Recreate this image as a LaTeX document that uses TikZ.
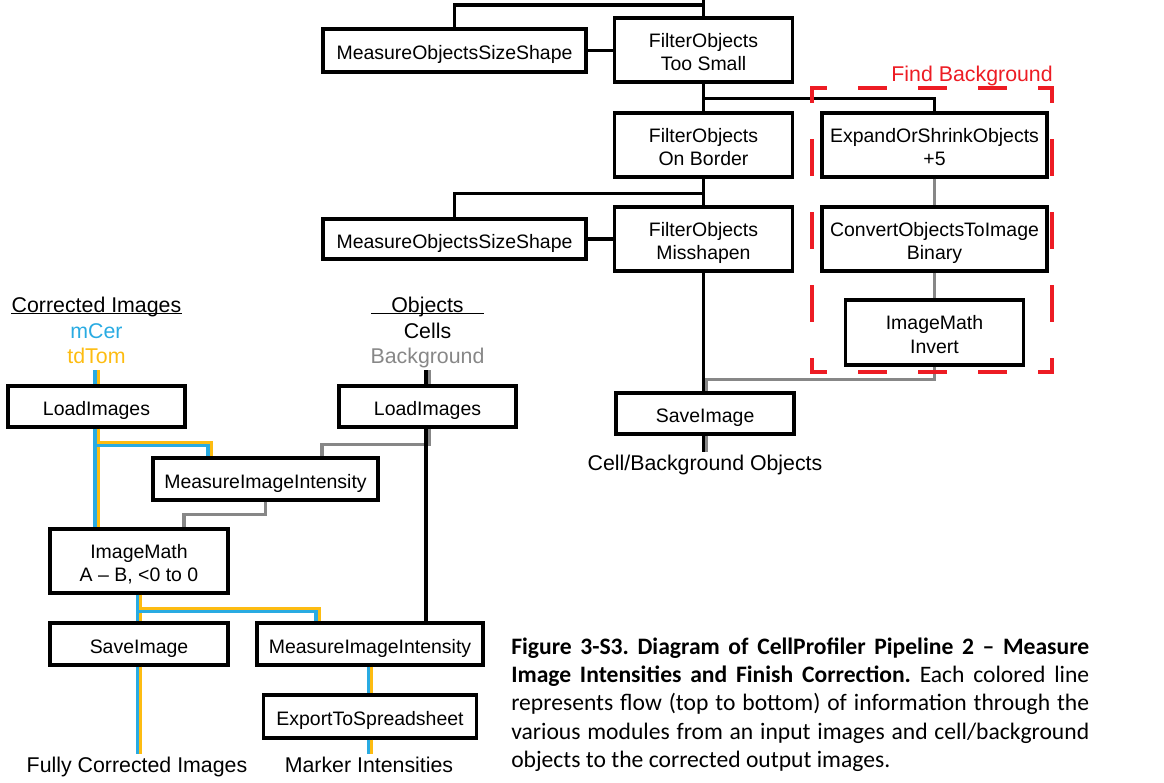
\documentclass[tikz,border=0pt]{standalone}
\usepackage{fontspec}
\setmainfont{Liberation Sans}
\newfontfamily\capfont{Carlito}
\usetikzlibrary{calc}

\definecolor{cerblue}{RGB}{41,171,226}
\definecolor{tomorange}{RGB}{253,188,17}
\definecolor{bggray}{RGB}{135,135,135}
\definecolor{findred}{RGB}{237,28,36}

\newcommand{\linetop}{\rule{0pt}{16.8pt}}

\tikzset{
  module/.style 2 args={draw, line width=2.5pt, inner sep=0pt, align=center,
    minimum width=#1*0.75pt, minimum height=#2*0.75pt,
    font=\fontsize{14.6}{17.6}\selectfont,
    execute at begin node={\linetop},
    execute at end node={\rule[-3.1pt]{0pt}{0pt}}},
  lbl/.style={inner sep=0pt, anchor=base, font=\fontsize{16}{19}\selectfont},
  objline/.style={line width=2.4pt},
  bgline/.style={line width=2.4pt, bggray},
  chan/.style={line width=2.4pt, #1},
  uline/.style={line width=1.1pt},
  findh/.style={findred, line width=2.3pt, line cap=rect,
    dash pattern=on 19.5pt off 25.5pt, dash phase=9.4pt},
  findv/.style={findred, line width=2.3pt, line cap=rect,
    dash pattern=on 25.1pt off 29.6pt, dash phase=15pt}
}

\begin{document}
\begin{tikzpicture}[x=0.75pt, y=-0.75pt]
\useasboundingbox (0,0) rectangle (1164,782);

\node[module={263}{43}] (moss1) at (454.5,50.5) {MeasureObjectsSizeShape};
\node[module={178}{64}] (fTooSmall) at (703.5,50) {\linetop FilterObjects\\Too Small};
\node[module={178}{64}] (fBorder) at (703.5,145) {\linetop FilterObjects\\On Border};
\node[module={225}{64}] (expand) at (934.5,145) {\linetop ExpandOrShrinkObjects\\+5};
\node[module={263}{40}] (moss2) at (454.5,239) {MeasureObjectsSizeShape};
\node[module={178}{64}] (fMiss) at (703.5,239) {\linetop FilterObjects\\Misshapen};
\node[module={225}{64}] (convert) at (934.5,239) {\linetop ConvertObjectsToImage\\Binary};
\node[module={178}{65}] (invert) at (934.5,332.5) {\linetop ImageMath\\Invert};
\node[module={178}{41}] (saveR) at (705.1,413.5) {SaveImage};
\node[lbl] (cboT) at (705,470) {Cell/Background Objects};
\node[lbl, text=findred, anchor=base east] (findT) at (1053,81) {Find Background};

\node[lbl] (ciT) at (96.5,312) {Corrected Images};
\node[lbl, text=cerblue] (mcerT) at (96.5,338) {mCer};
\node[lbl, text=tomorange] (tdtomT) at (96.5,363.5) {tdTom};
\node[lbl] (objT) at (427.5,312) {Objects};
\node[lbl] (cellsT) at (427.5,338) {Cells};
\node[lbl, text=bggray] (bgT) at (427.5,363.5) {Background};
\node[module={177}{41}] (loadL) at (96.5,406.5) {LoadImages};
\node[module={177}{41}] (loadR) at (427.5,406.5) {LoadImages};
\node[module={225}{42}] (miiU) at (265.5,479) {MeasureImageIntensity};
\node[module={178}{64}] (mathAB) at (139,561) {\linetop ImageMath\\A -- B, <0 to 0};
\node[module={178}{42}] (saveL) at (139,644) {SaveImage};
\node[module={226}{42}] (miiL) at (370,644) {MeasureImageIntensity};
\node[module={213}{43}] (export) at (370,716.5) {ExportToSpreadsheet};
\node[lbl] (fciT) at (137,772) {Fully Corrected Images};
\node[lbl] (markT) at (369,772) {Marker Intensities};

\node[anchor=north west, inner sep=0pt, text width=433.5pt, align=justify,
  font=\capfont\frenchspacing\fontsize{17.7}{21.2}\selectfont] (capT) at (511,637.5)
  {\textbf{Figure 3-S3. Diagram of CellProfiler Pipeline 2 – Measure\linebreak
  Image Intensities and Finish Correction.} Each colored line\linebreak
  represents flow (top to bottom) of information through the\linebreak
  various modules from an input images and cell/background\linebreak
  objects to the corrected output images.};

\draw[uline] ($(ciT.base west)+(0,1.5)$) -- ($(ciT.base east)+(0,1.5)$);
\draw[uline] ($(objT.base)+(-56.5,1.5)$) -- ++(113,0);

\coordinate (top) at (703.5,0);
\draw[objline] (fTooSmall.north) -- (top);
\draw[objline] (moss1.north) |- ($(top)+(0,5)$);
\draw[objline] (moss1.east) -- (moss1.east -| fTooSmall.west);
\draw[objline] (fTooSmall) -- (fBorder);
\draw[objline] ($(fTooSmall.south)+(0,15)$) -| (expand.north);
\draw[objline] (fBorder) -- (fMiss);
\draw[objline] ($(fBorder.south)+(0,15)$) -| (moss2.north);
\draw[objline] (moss2.east) -- (moss2.east -| fMiss.west);
\draw[objline] (fMiss.south) -- (fMiss.south |- saveR.north);
\draw[bgline] (expand) -- (convert);
\draw[bgline] (convert) -- (invert);
\draw[bgline] (invert.south) -- ++(0,13) -| ($(saveR.north)+(1.6,0)$);
\draw[objline] ($(saveR.south)+(-1.6,0)$) -- ++(0,16);
\draw[bgline] ($(saveR.south)+(1.6,0)$) -- ++(0,16);

\draw[findh] (812,88) -- (1052,88);
\draw[findh] (812,372) -- (1052,372);
\draw[findv] (812,88) -- (812,372);
\draw[findv] (1052,88) -- (1052,372);

\draw[objline] ($(loadR.north)+(-1.6,-14)$) -- ($(loadR.north)+(-1.6,0)$);
\draw[bgline] ($(loadR.north)+(1.6,-14)$) -- ($(loadR.north)+(1.6,0)$);
\draw[bgline] ($(loadR.south)+(1.6,0)$) -- ++(0,16) -| ($(miiU.north)+(56.5,0)$);
\draw[objline] ($(loadR.south)+(-1.6,0)$) -- ($(miiL.north -| loadR.south)+(-1.6,0)$);
\draw[bgline] (miiU.south) -- ++(0,13) -| ($(mathAB.north)+(45,0)$);

\foreach \c/\d/\e in {tomorange/1.6/14, cerblue/-1.6/17.2} {
  \draw[chan=\c] ($(loadL.north)+(\d,-14)$) -- ($(loadL.north)+(\d,0)$);
  \draw[chan=\c] ($(loadL.south)+(\d,0)$) -- ($(mathAB.north -| loadL.south)+(\d,0)$);
  \draw[chan=\c] ($(loadL.south)+(\d,\e)$) -| ($(miiU.north)+(\d-56,0)$);
  \draw[chan=\c] ($(mathAB.south)+(\d,0)$) -- ($(saveL.north)+(\d,0)$);
  \draw[chan=\c] ($(mathAB.south)+(\d,\e)$) -| ($(miiL.north)+(\d-52.4,0)$);
  \draw[chan=\c] ($(saveL.south)+(\d,0)$) -- ++(0,87);
  \draw[chan=\c] ($(miiL.south)+(\d,0)$) -- ($(export.north)+(\d,0)$);
  \draw[chan=\c] ($(export.south)+(\d,0)$) -- ++(0,14);
}
\end{tikzpicture}
\end{document}
